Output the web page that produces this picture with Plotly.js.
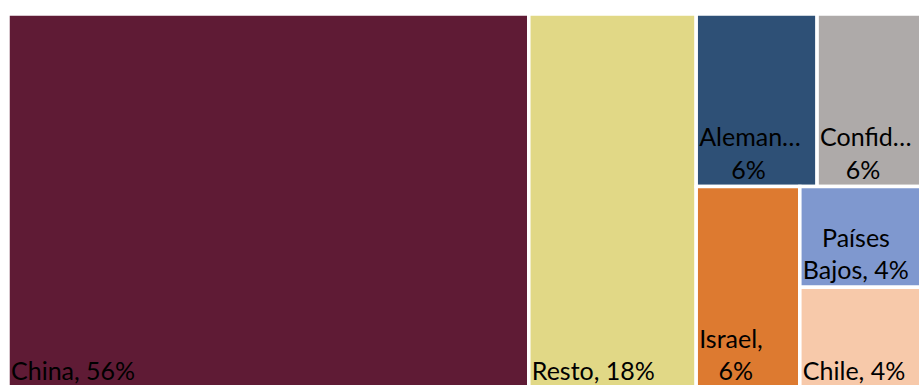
<!DOCTYPE html>
<html>
<head>
<meta charset="utf-8">
<script src="https://cdn.plot.ly/plotly-3.0.1.min.js"></script>
<style>
  html, body { margin: 0; padding: 0; overflow: hidden; background: #ffffff; }
  #chart { width: 938px; height: 388px; }
</style>
</head>
<body>
<div id="chart"></div>
<script>
// Data (share of total, %)
const countries = ["China", "Resto", "Alemania", "Confidencial", "Israel", "Países Bajos", "Chile"];
const shares = [56, 18, 6, 6, 6, 4, 4];
// Labels as shown in the picture (Excel-style truncation / wrapping)
const shownLabels = [
  "China, 56%",
  "Resto, 18%",
  "Aleman…<br>\u00a0\u00a0\u00a0\u00a0\u00a06%",
  "Confid…<br>\u00a0\u00a0\u00a0\u00a06%",
  "Israel,<br>\u00a0\u00a0\u00a06%",
  "\u00a0\u00a0\u00a0Países<br>Bajos, 4%",
  "Chile, 4%"
];
const cellColors = ["#5f1b35", "#e1d886", "#2e5076", "#aeaaa9", "#dd7a30", "#7f98cf", "#f7c9aa"];

const trace = {
  type: "treemap",
  labels: countries,
  parents: countries.map(() => ""),
  values: shares,
  text: shownLabels,
  texttemplate: "%{text}",
  textinfo: "text",
  textposition: "bottom left",
  hoverinfo: "label+value",
  sort: true,
  branchvalues: "remainder",
  tiling: { packing: "squarify", squarifyratio: 1, pad: 0 },
  pathbar: { visible: false },
  marker: {
    colors: cellColors,
    line: { color: "#ffffff", width: 3.5 },
    pad: { t: 0, l: 0, r: 0, b: 0 }
  },
  textfont: { family: "Lato, 'Open Sans', sans-serif", size: 25, color: "#000000" },
  insidetextfont: { family: "Lato, 'Open Sans', sans-serif", size: 25, color: "#000000" }
};

const layout = {
  width: 938,
  height: 388,
  margin: { l: 8, r: 0, t: 14, b: 0 },
  paper_bgcolor: "#ffffff",
  showlegend: false
};

Plotly.newPlot("chart", [trace], layout, { displayModeBar: false, staticPlot: true });
</script>
</body>
</html>
